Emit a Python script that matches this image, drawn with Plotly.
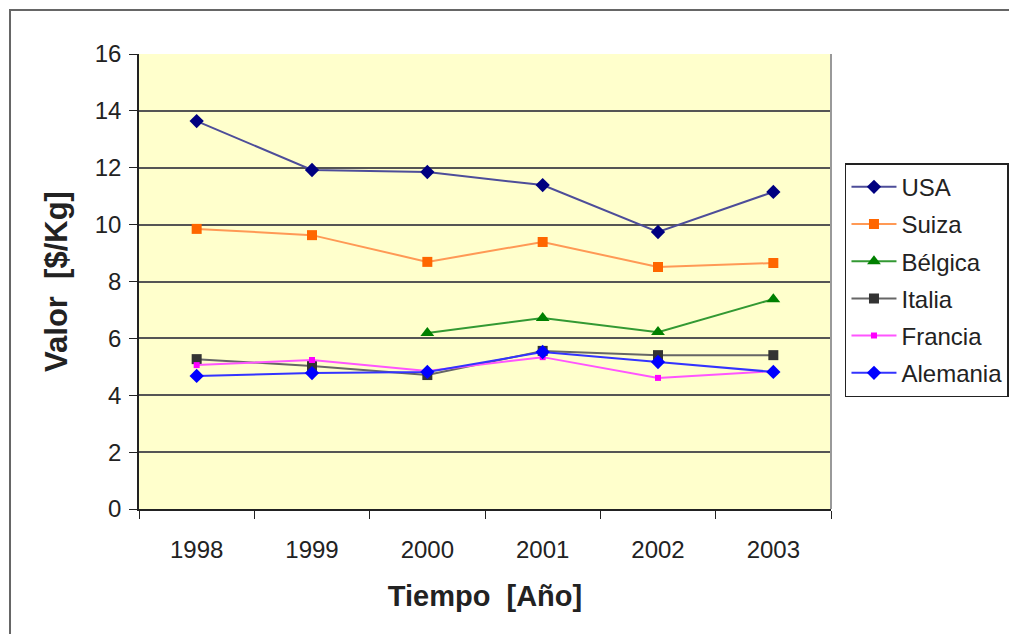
import plotly.graph_objects as go

# Valor medio por pais, 1998-2003
years = ["1998", "1999", "2000", "2001", "2002", "2003"]
usa = [13.64, 11.92, 11.85, 11.39, 9.74, 11.15]
suiza = [9.85, 9.63, 8.69, 9.39, 8.51, 8.65]
belgica = [None, None, 6.19, 6.72, 6.22, 7.38]
italia = [5.27, 5.03, 4.71, 5.56, 5.41, 5.41]
francia = [5.06, 5.24, 4.85, 5.34, 4.61, 4.85]
alemania = [4.68, 4.78, 4.82, 5.52, 5.17, 4.82]

series = [
    ("USA", usa, "#4d4d99", "#000080", "diamond", 11),
    ("Suiza", suiza, "#ff9955", "#ff6600", "square", 10),
    ("Bélgica", belgica, "#339933", "#008000", "triangle-up", 12),
    ("Italia", italia, "#666666", "#333333", "square", 10),
    ("Francia", francia, "#ff55ff", "#ff00ff", "square", 6),
    ("Alemania", alemania, "#3333ff", "#0000ff", "diamond", 11),
]

fig = go.Figure()
for name, vals, lcol, mcol, sym, size in series:
    fig.add_trace(go.Scatter(
        x=years, y=vals,
        mode="lines+markers",
        name=name,
        legendgroup=name,
        line=dict(color=lcol, width=2),
        marker=dict(color=mcol, symbol=sym, size=size),
    ))

# marco exterior del grafico (la pagina tiene 8px de margen)
fig.add_shape(type="rect", xref="paper", yref="paper",
              x0=-0.1864, x1=1.30, y0=-0.30, y1=1.0967,
              line=dict(color="#666666", width=2), layer="below")

fig.update_layout(
    width=1009, height=626,
    margin=dict(l=131, r=186, t=46, b=125, autoexpand=False),
    paper_bgcolor="white",
    plot_bgcolor="#ffffcc",
    font=dict(family="Liberation Sans, Arial, sans-serif", size=24, color="#222222"),
    showlegend=True,
    legend=dict(
        x=1.0202, y=0.760, xanchor="left", yanchor="top",
        bordercolor="#222222", borderwidth=1.5, bgcolor="white",
        font=dict(size=24, color="#222222"),
        tracegroupgap=3, itemwidth=45,
    ),
)
fig.update_xaxes(
    type="category", range=[-0.5, 5.5],
    tickson="boundaries", ticks="outside", ticklen=8, tickcolor="#222222",
    ticklabelstandoff=18,
    showline=True, linecolor="#222222", linewidth=1.5,
    mirror=False, showgrid=False,
    title=dict(text="<b>Tiempo  [Año]</b>", font=dict(size=29), standoff=24),
)
fig.update_yaxes(
    range=[0, 16], dtick=2,
    ticks="outside", ticklen=8, tickcolor="#222222",
    ticklabelstandoff=3,
    showline=True, linecolor="#222222", linewidth=1.5,
    showgrid=True, gridcolor="#555555", gridwidth=2,
    zeroline=False,
    title=dict(text="<b>Valor  [$/Kg]</b>", font=dict(size=31), standoff=18),
)
# borde gris del area de trazado (derecha)
fig.add_shape(type="line", xref="paper", yref="paper", x0=1, x1=1, y0=0, y1=1,
              line=dict(color="#999999", width=2))

fig.write_html("out.html")
